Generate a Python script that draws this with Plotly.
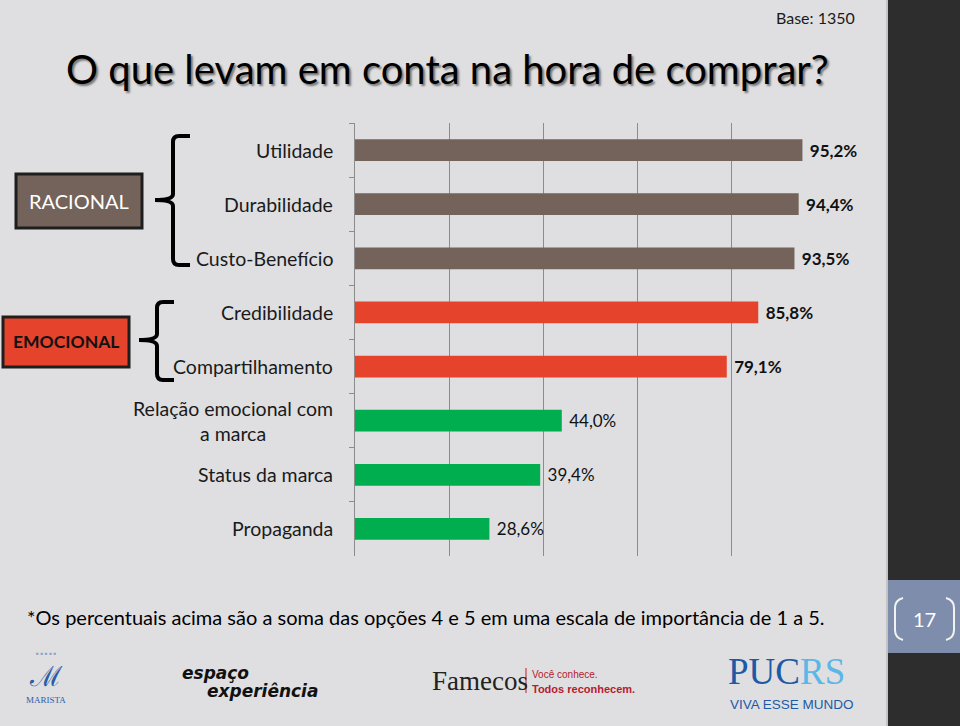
import plotly.graph_objects as go

# ---------------- data ----------------
categories = ["Utilidade", "Durabilidade", "Custo-Benefício", "Credibilidade",
              "Compartilhamento", "Relação emocional com<br>a marca",
              "Status da marca", "Propaganda"]
values = [95.2, 94.4, 93.5, 85.8, 79.1, 44.0, 39.4, 28.6]
groups = ["racional", "racional", "racional", "emocional", "emocional",
          "outros", "outros", "outros"]
group_colors = {"racional": "#74635A", "emocional": "#E5432B", "outros": "#00AE4F"}
group_bold = {"racional": True, "emocional": True, "outros": False}
x_ticks = [0, 20, 40, 60, 80, 100]

title_text = "O que levam em conta na hora de comprar?"
base_text = "Base: 1350"
footnote = "*Os percentuais acima são a soma das opções 4 e 5 em uma escala de importância de 1 a 5."
page_number = "17"

# ---------------- layout geometry (pixels) ----------------
W, Hh = 960, 726
L, R, T, B = 355, 825, 123, 556
PW, PH = R - L, B - T
FONT = "Lato"
BG = "#DFDFE1"


def px(x):
    return (x - L) / PW


def py(y):
    return (B - y) / PH


def path(points_cmds):
    out = []
    for cmd in points_cmds:
        if isinstance(cmd, str):
            out.append(cmd)
        else:
            out.append(f"{px(cmd[0]):.5f},{py(cmd[1]):.5f}")
    return " ".join(out)


def note(x, y, text, size, color="#111111", family=FONT, xanchor="center", **kw):
    d = dict(x=px(x), y=py(y), xref="paper", yref="paper", text=text,
             xanchor=xanchor, yanchor="middle", showarrow=False,
             font=dict(family=family, size=size, color=color, **kw))
    return d


colors = [group_colors[g] for g in groups]
labels = []
for v, g in zip(values, groups):
    s = f"{v:.1f}%".replace(".", ",")
    labels.append(f"<b>{s}</b>" if group_bold[g] else s)

fig = go.Figure(go.Bar(
    x=values, y=categories, orientation="h",
    marker=dict(color=colors, line=dict(width=0)),
    width=0.4,
    text=labels, texttemplate="\u00a0%{text}",
    textposition="outside", cliponaxis=False,
    textfont=dict(family=FONT, size=17, color="#111111"),
    hoverinfo="skip",
))

fig.update_layout(
    width=W, height=Hh,
    margin=dict(l=L, r=W - R, t=T, b=Hh - B),
    paper_bgcolor=BG, plot_bgcolor=BG,
    showlegend=False,
    font=dict(family=FONT),
)
fig.update_xaxes(range=[0, 100], tickvals=x_ticks, showticklabels=False,
                 showgrid=True, gridcolor="#8C8C8C", gridwidth=1,
                 zeroline=False, showline=False, ticks="")
fig.update_yaxes(autorange="reversed", showticklabels=False,
                 ticks="outside", tickson="boundaries", ticklen=5,
                 tickcolor="#8C8C8C", showline=True, linecolor="#8C8C8C",
                 linewidth=1, showgrid=False)

ann = []
# category labels
for c in categories:
    ann.append(dict(x=px(335), xref="paper", y=c, yref="y", text=c,
                    xanchor="right", yanchor="middle", showarrow=False,
                    align="center",
                    font=dict(family=FONT, size=19.5, color="#1a1a1a")))

# title / base
ann.append(note(64, 69, title_text, 40, color="#000000", xanchor="left",
                shadow="2px 2px 2px #777777"))
ann.append(note(857, 18, base_text, 16, color="#1a1a1a", xanchor="right"))
# footnote
ann.append(note(25, 617, footnote, 20, color="#000000", xanchor="left"))
# group boxes text
ann.append(note(79, 201, "RACIONAL", 20, color="#FFFFFF"))
ann.append(note(66, 341, "<b>EMOCIONAL</b>", 17.5, color="#111111"))
# page number
ann.append(note(924, 619, page_number, 20, color="#FFFFFF"))

# footer logos (approximated as text)
ann.append(note(46, 654, "∘∘∘∘∘", 7, color="#2A5CA8", family="DejaVu Sans"))
ann.append(note(46, 676, "ℳ", 28, color="#2A5CA8", family="DejaVu Serif"))
ann.append(note(46, 700, "MARISTA", 9, color="#2A5CA8", family="Liberation Serif"))
ann.append(note(180, 673, "<b><i>espaço</i></b>", 17, family="DejaVu Sans", xanchor="left"))
ann.append(note(205, 691, "<b><i>experiência</i></b>", 17, family="DejaVu Sans", xanchor="left"))
ann.append(note(430, 681, "Famecos", 27, color="#222222", family="Liberation Serif", xanchor="left"))
ann.append(note(530, 674, "Você conhece.", 10, color="#B5202E",
                family="Liberation Sans Narrow, Liberation Sans", xanchor="left"))
ann.append(note(530, 689, "<b>Todos reconhecem.</b>", 11, color="#B5202E",
                family="Liberation Sans Narrow, Liberation Sans", xanchor="left"))
ann.append(note(726, 671,
                "<span style='color:#1C5AA6'>PUC</span><span style='color:#5CB6E6'>RS</span>",
                37, color="#1C5AA6", family="Liberation Serif", xanchor="left"))
ann.append(note(728, 704, "VIVA ESSE MUNDO", 13.5, color="#1C5AA6",
                family="Liberation Sans Narrow, Liberation Sans", xanchor="left"))

shapes = []
# right dark strip
shapes.append(dict(type="rect", xref="paper", yref="paper", layer="below",
                   x0=px(888), x1=px(961), y0=py(-1), y1=py(727),
                   fillcolor="#2D2D2D", line=dict(width=0)))
shapes.append(dict(type="line", xref="paper", yref="paper",
                   x0=px(887), x1=px(887), y0=py(0), y1=py(726),
                   line=dict(color="#A8A8A8", width=1)))
# page box
shapes.append(dict(type="rect", xref="paper", yref="paper",
                   x0=px(888), x1=px(961), y0=py(653), y1=py(580),
                   fillcolor="#7D8DAB", line=dict(width=0)))
shapes.append(dict(type="path", xref="paper", yref="paper",
                   path=path(["M", (903, 598), "Q", (895, 600), (895, 608), "L", (895, 630),
                              "Q", (895, 638), (903, 640)]),
                   line=dict(color="#F2F2F2", width=2)))
shapes.append(dict(type="path", xref="paper", yref="paper",
                   path=path(["M", (946, 598), "Q", (954, 600), (954, 608), "L", (954, 630),
                              "Q", (954, 638), (946, 640)]),
                   line=dict(color="#F2F2F2", width=2)))
# group boxes
shapes.append(dict(type="rect", xref="paper", yref="paper",
                   x0=px(16), x1=px(142), y0=py(228), y1=py(174),
                   fillcolor="#74635A", line=dict(color="#1E1E1E", width=3)))
shapes.append(dict(type="rect", xref="paper", yref="paper",
                   x0=px(3), x1=px(129), y0=py(367), y1=py(317),
                   fillcolor="#E5432B", line=dict(color="#1E1E1E", width=3)))
# braces
shapes.append(dict(type="path", xref="paper", yref="paper",
                   path=path(["M", (190, 136), "L", (179, 136), "Q", (173, 136), (173, 142),
                              "L", (173, 194), "Q", (173, 200), (155, 200),
                              "Q", (173, 200), (173, 206), "L", (173, 259),
                              "Q", (173, 265), (179, 265), "L", (190, 265)]),
                   line=dict(color="#000000", width=4)))
shapes.append(dict(type="path", xref="paper", yref="paper",
                   path=path(["M", (174, 302), "L", (163, 302), "Q", (157, 302), (157, 308),
                              "L", (157, 334), "Q", (157, 340), (139, 340),
                              "Q", (157, 340), (157, 346), "L", (157, 374),
                              "Q", (157, 380), (163, 380), "L", (174, 380)]),
                   line=dict(color="#000000", width=4)))
# footer separator in Famecos logo
shapes.append(dict(type="line", xref="paper", yref="paper",
                   x0=px(526), x1=px(526), y0=py(668), y1=py(693),
                   line=dict(color="#B5202E", width=1)))

fig.update_layout(annotations=ann, shapes=shapes)
fig.write_html("out.html", config={"displayModeBar": False},
               post_script="document.body.style.margin='0';document.body.style.padding='0';")
